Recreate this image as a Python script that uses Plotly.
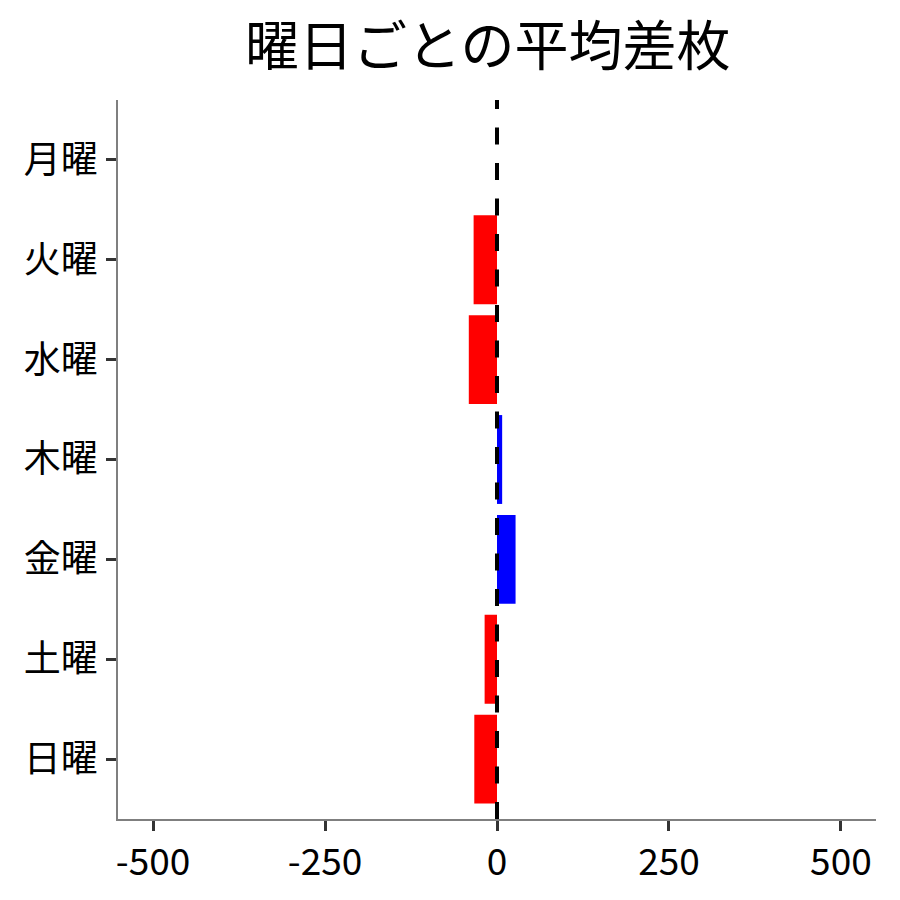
import plotly.graph_objects as go

days = ["月曜", "火曜", "水曜", "木曜", "金曜", "土曜", "日曜"]
avg_diff = [0, -34, -41, 7.5, 27, -18, -33]
x_ticks = [-500, -250, 0, 250, 500]

FONT = "Noto Sans CJK JP"

colors = ["blue" if v > 0 else "red" for v in avg_diff]

fig = go.Figure()
fig.add_trace(go.Bar(
    x=avg_diff,
    y=days,
    orientation="h",
    marker=dict(color=colors, line=dict(width=0)),
    showlegend=False,
))

# zero line, dashed, drawn over the bars
fig.add_shape(
    type="line", xref="x", yref="paper",
    x0=0, x1=0, y0=0, y1=1,
    line=dict(color="black", width=4, dash="17px,18.5px"),
    layer="above",
)

fig.update_layout(
    width=900, height=900,
    paper_bgcolor="white", plot_bgcolor="white",
    margin=dict(l=110, r=32, t=92, b=89),
    bargap=0.11,
    font=dict(family=FONT, color="black"),
    title=dict(
        text="曜日ごとの平均差枚",
        font=dict(family=FONT, size=54, color="black"),
        x=0.533, xanchor="center", y=0.957, yanchor="middle",
    ),
    xaxis=dict(
        range=[-551, 551],
        tickvals=x_ticks,
        ticktext=[str(v) for v in x_ticks],
        showgrid=False, zeroline=False,
        showline=True, linecolor="#7f7f7f", linewidth=1.5,
        ticks="outside", ticklen=10, tickwidth=3, tickcolor="#333333",
        tickfont=dict(family=FONT, size=37, color="black"),
    ),
    yaxis=dict(
        categoryorder="array", categoryarray=days,
        range=[6.6, -0.6],
        showgrid=False, zeroline=False,
        showline=True, linecolor="#7f7f7f", linewidth=1.5,
        ticks="outside", ticklen=10, tickwidth=3, tickcolor="#333333",
        ticklabelstandoff=1,
        tickfont=dict(family=FONT, size=37, color="black"),
    ),
)

fig.write_html("out.html")
